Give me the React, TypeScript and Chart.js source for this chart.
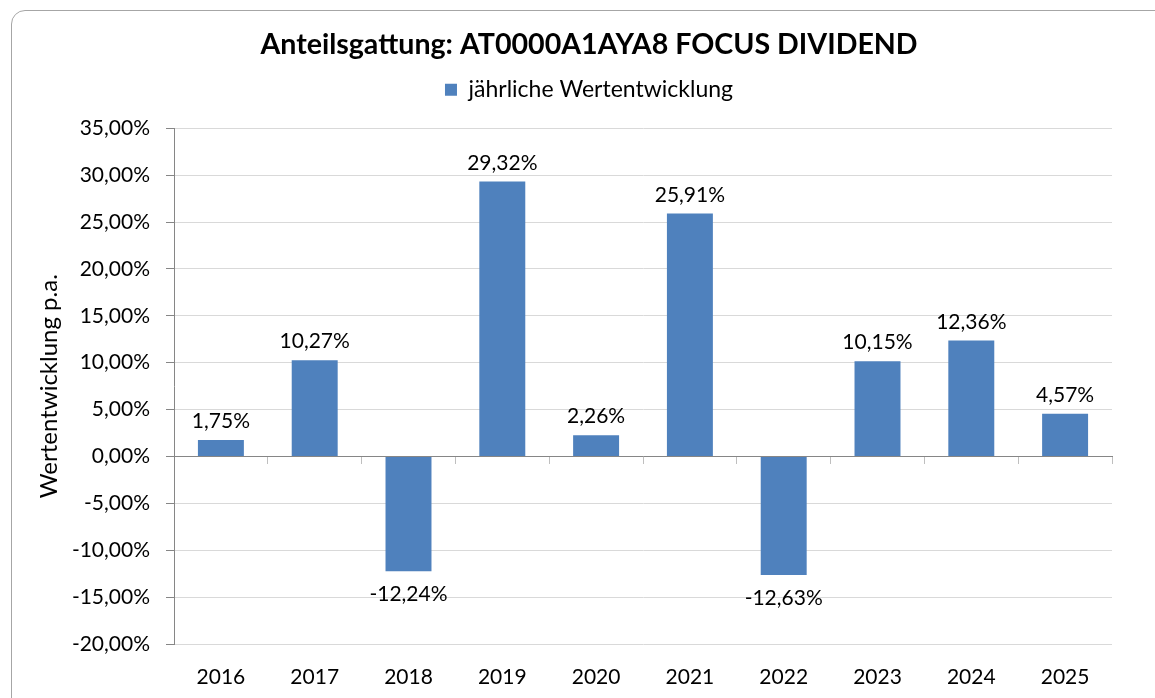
import React, { useEffect, useRef } from 'react';
import { Chart, registerables } from 'chart.js';

Chart.register(...registerables);

const chartTitle = 'Anteilsgattung: AT0000A1AYA8 FOCUS DIVIDEND';
const seriesName = 'jährliche Wertentwicklung';
const yAxisTitle = 'Wertentwicklung p.a.';
const categories = ['2016', '2017', '2018', '2019', '2020', '2021', '2022', '2023', '2024', '2025'];
const values = [1.75, 10.27, -12.24, 29.32, 2.26, 25.91, -12.63, 10.15, 12.36, 4.57];
const yMin = -20;
const yMax = 35;
const yStep = 5;

const FONT = 'Lato, "Noto Sans", sans-serif';
const BAR_COLOR = '#4f81bd';

const fmt = (v: number) => v.toFixed(2).replace('.', ',') + '%';

const dataLabelPlugin = {
  id: 'dataLabels',
  afterDatasetsDraw(chart: any) {
    const ctx = chart.ctx;
    const meta = chart.getDatasetMeta(0);
    ctx.save();
    ctx.font = `21px ${FONT}`;
    ctx.fillStyle = '#000';
    ctx.textAlign = 'center';
    ctx.textBaseline = 'alphabetic';
    meta.data.forEach((bar: any, i: number) => {
      const v = values[i];
      const { x, y } = bar.getProps(['x', 'y'], true);
      if (v >= 0) {
        ctx.fillText(fmt(v), x, y - 12);
      } else {
        ctx.fillText(fmt(v), x, y + 30);
      }
    });
    ctx.restore();
  },
};

export default function App() {
  const canvasRef = useRef<HTMLCanvasElement | null>(null);

  useEffect(() => {
    if (!canvasRef.current) return;
    const chart = new Chart(canvasRef.current, {
      type: 'bar',
      data: {
        labels: categories,
        datasets: [
          {
            label: seriesName,
            data: values,
            backgroundColor: BAR_COLOR,
            borderWidth: 0,
            barPercentage: 0.49,
            categoryPercentage: 1,
            xAxisID: 'x',
            yAxisID: 'y',
          },
        ],
      },
      options: {
        responsive: false,
        animation: false,
        devicePixelRatio: 1,
        layout: { padding: { left: 30, right: 7, top: 14, bottom: 0 } },
        plugins: {
          title: {
            display: true,
            text: chartTitle,
            color: '#000',
            font: { family: FONT, size: 28.6, weight: 'bold' },
            padding: { top: 14, bottom: 6 },
          },
          legend: {
            display: true,
            position: 'top',
            labels: {
              boxWidth: 12,
              boxHeight: 12,
              color: '#000',
              font: { family: FONT, size: 23 },
              padding: 10,
            },
          },
          tooltip: { enabled: false },
        },
        scales: {
          x: {
            type: 'category',
            position: 'bottom',
            grid: { display: false, drawTicks: false },
            border: { display: false },
            ticks: { color: '#000', font: { family: FONT, size: 21 }, padding: 21 },
            afterFit: (s: any) => { s.height = 54; },
          },
          x2: {
            type: 'category',
            position: { y: 0 },
            offset: true,
            grid: { display: true, drawOnChartArea: false, tickLength: 7, color: '#bfbfbf', tickColor: '#bfbfbf', offset: true },
            border: { display: true, color: '#868686', width: 1 },
            ticks: { display: false },
          },
          xTopGap: {
            type: 'category',
            position: 'top',
            display: true,
            grid: { display: false, drawTicks: false },
            border: { display: false },
            ticks: { display: false },
            afterFit: (s: any) => { s.height = 17; },
          },
          y: {
            type: 'linear',
            position: 'left',
            min: yMin,
            max: yMax,
            ticks: {
              stepSize: yStep,
              color: '#000',
              font: { family: FONT, size: 21 },
              padding: 16,
              callback: (v: any) => fmt(Number(v)),
            },
            grid: { color: '#d9d9d9', tickColor: '#868686', tickLength: 8, drawTicks: true },
            border: { display: true, color: '#868686' },
            title: {
              display: true,
              text: yAxisTitle,
              color: '#000',
              font: { family: FONT, size: 24 },
              padding: { top: 5, bottom: 0 },
            },
            afterFit: (s: any) => { s.width = 144; },
          },
          yRight: {
            type: 'linear',
            position: 'right',
            display: true,
            grid: { display: false },
            border: { display: false },
            ticks: { display: false },
            afterFit: (s: any) => { s.width = 36; },
          },
        },
      },
      plugins: [dataLabelPlugin],
    } as any);
    return () => chart.destroy();
  }, []);

  return (
    <div style={{ position: 'fixed', left: 0, top: 0, width: 1155, height: 698, background: '#fff', overflow: 'hidden' }}>
      <div
        style={{
          position: 'absolute',
          left: 11,
          top: 10,
          width: 1220,
          height: 720,
          border: '1px solid #a6a6a6',
          borderRadius: 14,
          boxSizing: 'border-box',
        }}
      />
      <canvas ref={canvasRef} width={1155} height={698} style={{ position: 'absolute', left: 0, top: 0, width: 1155, height: 698 }} />
    </div>
  );
}
